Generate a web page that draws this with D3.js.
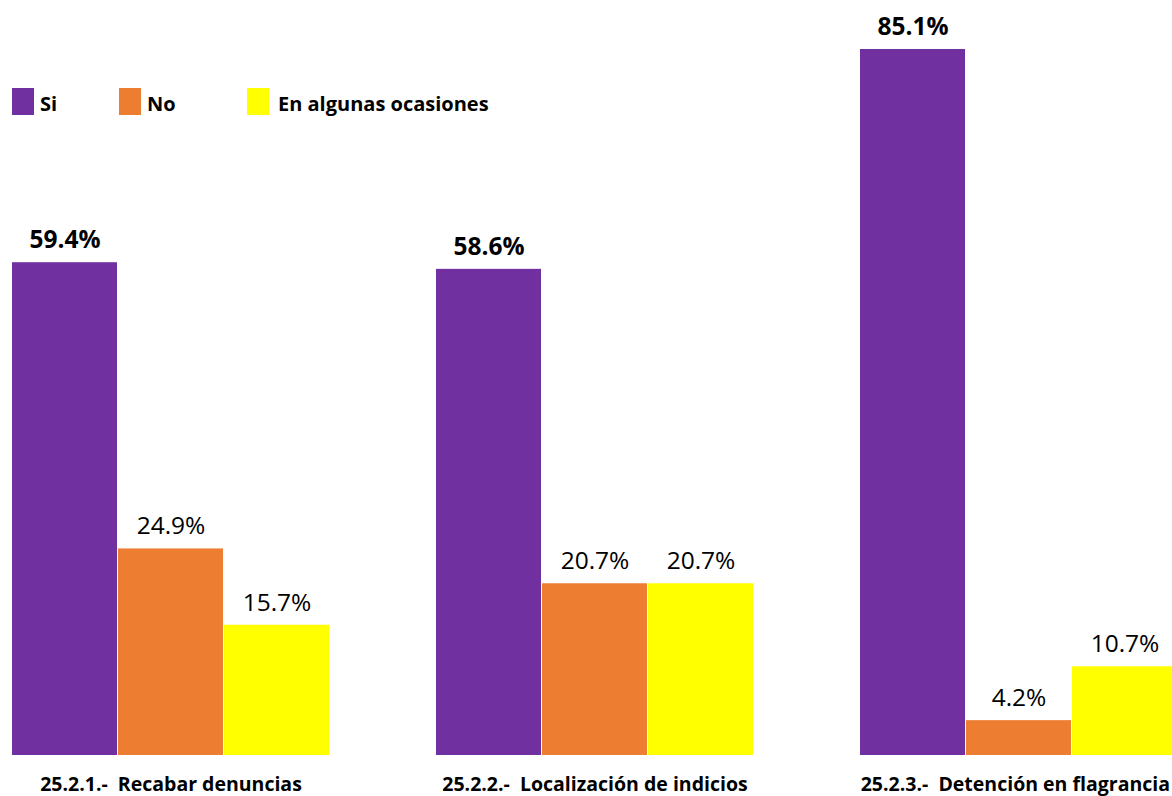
<!DOCTYPE html>
<html><head><meta charset="utf-8">
<script src="https://cdn.jsdelivr.net/npm/d3@7"></script>
<style>html,body{margin:0;padding:0;background:#fff;overflow:hidden}</style>
</head><body>
<svg id="c" width="1172" height="796"></svg>
<script>
const categories = ["25.2.1.-  Recabar denuncias", "25.2.2.-  Localización de indicios", "25.2.3.-  Detención en flagrancia"];
const seriesNames = ["Si", "No", "En algunas ocasiones"];
const siValues = [59.4, 58.6, 85.1];
const noValues = [24.9, 20.7, 4.2];
const ocasionesValues = [15.7, 20.7, 10.7];
const colors = ["#7030A0", "#ED7D31", "#FFFF00"];

const series = [siValues, noValues, ocasionesValues];
const svg = d3.select("#c");
const font = "'Open Sans', sans-serif";
const W = 1172;

const x0 = d3.scaleBand().domain(categories).range([-41, 1231]).paddingInner(0.25).paddingOuter(0.125);
const x1 = d3.scaleBand().domain(seriesNames).range([0, x0.bandwidth()]);
const y = d3.scaleLinear().domain([0, 85.1]).range([755, 49]);

const g = svg.append("g");
categories.forEach((cat, ci) => {
  const gg = g.append("g").attr("transform", `translate(${x0(cat)},0)`);
  seriesNames.forEach((s, si) => {
    const v = series[si][ci];
    gg.append("rect")
      .attr("x", x1(s)).attr("y", y(v))
      .attr("width", x1.bandwidth() - 1).attr("height", y(0) - y(v))
      .attr("fill", colors[si]);
    gg.append("text")
      .attr("x", x1(s) + x1.bandwidth() / 2).attr("y", y(v) - 14)
      .attr("text-anchor", "middle")
      .attr("font-family", font).attr("font-size", 24.5)
      .attr("font-weight", si === 0 ? "bold" : "normal")
      .attr("fill", "#000")
      .text(v.toFixed(1) + "%");
  });
});

const xAxis = d3.axisBottom(x0).tickSize(0).tickPadding(0);
const ax = svg.append("g").attr("transform", "translate(0,755)").call(xAxis);
ax.select(".domain").remove();
ax.selectAll(".tick").each(function(d) {
  const t = d3.select(this).select("text")
    .attr("y", 36).attr("dy", 0)
    .attr("font-family", font).attr("font-size", 19.5).attr("font-weight", "bold")
    .attr("fill", "#000").style("white-space", "pre");
  const cx = x0(d) + x0.bandwidth() / 2;
  const len = t.node().getComputedTextLength();
  const overflow = cx + len / 2 - (W - 2);
  if (overflow > 0) t.attr("x", -overflow);
});

const legendX = [12, 119, 247];
const lg = svg.append("g");
seriesNames.forEach((s, i) => {
  lg.append("rect").attr("x", legendX[i]).attr("y", 88).attr("width", 22).attr("height", 27).attr("fill", colors[i]);
  lg.append("text").attr("x", legendX[i] + (i === 2 ? 31 : 28)).attr("y", 111)
    .attr("font-family", font).attr("font-size", 20).attr("font-weight", "bold")
    .attr("fill", "#000").text(s);
});
</script>
</body></html>
